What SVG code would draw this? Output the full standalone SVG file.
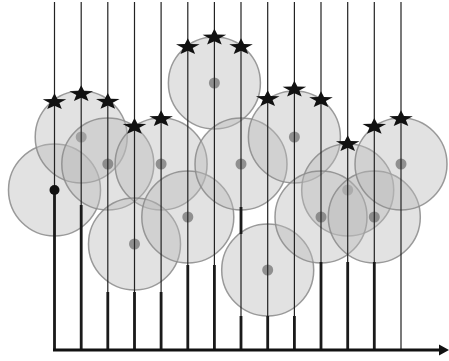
<svg xmlns="http://www.w3.org/2000/svg" width="449" height="361" viewBox="0 0 449 361">
<style>
.c{fill:#bbbbbb;fill-opacity:0.42;stroke:#8a8a8a;stroke-opacity:0.85;stroke-width:1.5}
.d{fill:#7a7a7a;fill-opacity:0.8}
.t{stroke:#222222;stroke-width:1.2;fill:none}
.k{stroke:#1a1a1a;stroke-width:2.8;fill:none}
.s{fill:#111111}
</style>
<defs>
<path id="star" d="M0,-8.8 L3,-3 L11.8,-2.7 L4.9,1.1 L7.3,7.1 L0,3.7 L-7.3,7.1 L-4.9,1.1 L-11.8,-2.7 L-3,-3 Z"/>
</defs>
<rect width="449" height="361" fill="#ffffff"/>
<g id="nodes">
<g id="n1"><circle class="c" cx="54.5" cy="190" r="46"/></g>
<g id="n2"><circle class="c" cx="81.2" cy="137" r="46"/><circle class="d" cx="81.2" cy="137" r="5.5"/></g>
<g id="n3"><circle class="c" cx="107.8" cy="164" r="46"/><circle class="d" cx="107.8" cy="164" r="5.5"/></g>
<g id="n4"><circle class="c" cx="161.1" cy="164" r="46"/><circle class="d" cx="161.1" cy="164" r="5.5"/></g>
<g id="n5"><circle class="c" cx="214.4" cy="83" r="46"/><circle class="d" cx="214.4" cy="83" r="5.5"/></g>
<g id="n6"><circle class="c" cx="134.5" cy="244" r="46"/><circle class="d" cx="134.5" cy="244" r="5.5"/></g>
<g id="n7"><circle class="c" cx="187.8" cy="217" r="46"/><circle class="d" cx="187.8" cy="217" r="5.5"/></g>
<g id="n8"><circle class="c" cx="241" cy="164" r="46"/><circle class="d" cx="241" cy="164" r="5.5"/></g>
<g id="n9"><circle class="c" cx="294.4" cy="137" r="46"/><circle class="d" cx="294.4" cy="137" r="5.5"/></g>
<g id="n10"><circle class="c" cx="267.7" cy="270" r="46"/><circle class="d" cx="267.7" cy="270" r="5.5"/></g>
<g id="n11"><circle class="c" cx="347.7" cy="190" r="46"/><circle class="d" cx="347.7" cy="190" r="5.5"/></g>
<g id="n12"><circle class="c" cx="321" cy="217" r="46"/><circle class="d" cx="321" cy="217" r="5.5"/></g>
<g id="n13"><circle class="c" cx="374.3" cy="217" r="46"/><circle class="d" cx="374.3" cy="217" r="5.5"/></g>
<g id="n14"><circle class="c" cx="401" cy="164" r="46"/><circle class="d" cx="401" cy="164" r="5.5"/></g>
</g>
<g id="connectors">
<path class="t" d="M54.5,2V350 M81.2,2V350 M107.8,2V350 M134.5,2V350 M161.1,2V350 M187.8,2V350 M214.4,2V350 M241,2V350 M267.7,2V350 M294.4,2V350 M321,2V350 M347.7,2V350 M374.3,2V350 M401,2V350"/>
<path class="k" d="M54.5,190V350 M81.2,205V350 M107.8,292V350 M134.5,292V350 M161.1,292V350 M187.8,265V350 M214.4,265V350 M241,207V234 M241,316V350 M267.7,316V350 M294.4,316V350 M321,262V350 M347.7,262V350 M374.3,262V350"/>
<path d="M53,350H441" stroke="#111111" stroke-width="3" fill="none"/>
<polygon points="439,344.5 449,350 439,355.5" fill="#111111"/>
</g>
<g id="origin"><circle cx="54.5" cy="190" r="5" fill="#111111"/></g>
<g id="stars" class="s">
<use href="#star" x="54.5" y="102"/>
<use href="#star" x="81.2" y="94"/>
<use href="#star" x="107.8" y="101.7"/>
<use href="#star" x="134.5" y="126.7"/>
<use href="#star" x="161.1" y="119"/>
<use href="#star" x="187.8" y="47"/>
<use href="#star" x="214.4" y="37.5"/>
<use href="#star" x="241" y="47"/>
<use href="#star" x="267.7" y="99"/>
<use href="#star" x="294.4" y="89.5"/>
<use href="#star" x="321" y="100"/>
<use href="#star" x="347.7" y="144"/>
<use href="#star" x="374.3" y="126.7"/>
<use href="#star" x="401" y="119"/>
</g>
</svg>
